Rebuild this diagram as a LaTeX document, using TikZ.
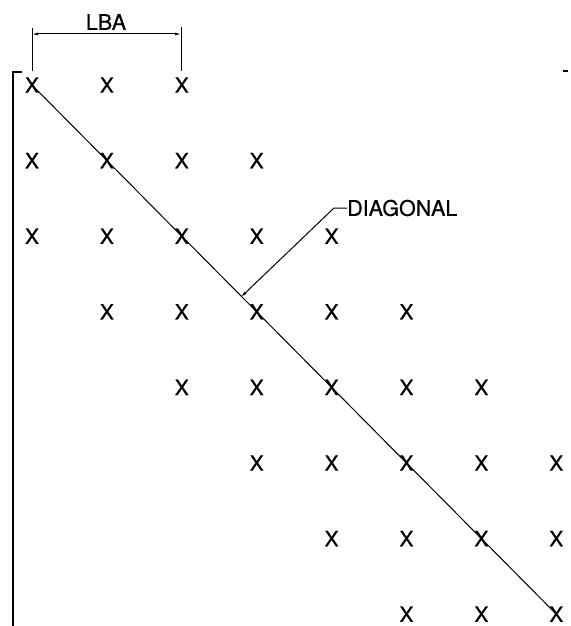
\documentclass[tikz,border=0pt]{standalone}
\usepackage{fontspec}
\setmainfont{TeX Gyre Heros}
\newfontfamily\lblfont[FakeBold=0.6]{TeX Gyre Heros}
\usetikzlibrary{arrows.meta}
\begin{document}
\begin{tikzpicture}[x=1pt,y=-1pt,
  xmk/.style={inner sep=0pt,font=\lblfont\fontsize{21}{21}\selectfont},
  lbl/.style={inner sep=0pt,font=\lblfont\fontsize{21.5}{21.5}\selectfont},
  thinline/.style={line width=1pt},
  dimline/.style={line width=1pt,{Latex[length=6pt,width=3pt]}-{Latex[length=6pt,width=3pt]}}]
\useasboundingbox (0,0) rectangle (570,626);
% grid of X marks: row, first column, last column
\foreach \r/\a/\b in {1/1/3,2/1/4,3/1/5,4/2/6,5/3/7,6/4/8,7/5/8,8/6/8}{
  \foreach \c in {\a,...,\b}{
    \node[xmk] (x\r-\c) at ({32+74.9*(\c-1)},{85+75.6*(\r-1)}) {X};
  }
}
% diagonal
\draw[thinline] (x1-1.center) -- (x8-8.center);
% left bracket
\draw[line width=1.6pt] (22,72) -- (13,72) -- (13,626);
% small tick at top right
\draw[line width=1.6pt] (563,71) -- (568,71);
% LBA dimension
\coordinate (la) at (32,28);
\coordinate (lb) at (32,71);
\coordinate (ra) at (181,27);
\coordinate (rb) at (181,71);
\draw[thinline] (la) -- (lb);
\draw[thinline] (ra) -- (rb);
\coordinate (da) at (32,34);
\coordinate (db) at (181,34);
\draw[dimline] (da) -- (db);
\node[lbl] (lba) at (106,22) {LBA};
% DIAGONAL leader
\node[lbl,anchor=west] (diag) at (347,208) {DIAGONAL};
\coordinate (k1) at (334,208);
\coordinate (tip) at (241,297);
\draw[thinline,-{Latex[length=6pt,width=3pt]}] (diag.west) -- (k1) -- (tip);
\end{tikzpicture}
\end{document}
